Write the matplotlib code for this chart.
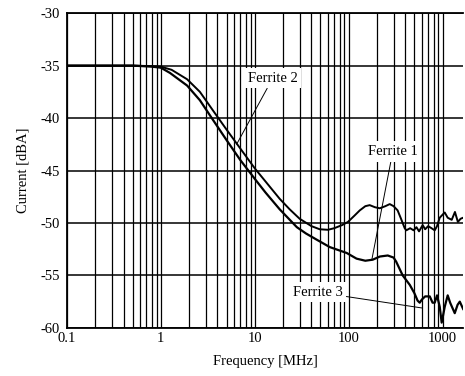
import matplotlib
matplotlib.use('Agg')
import matplotlib.pyplot as plt
import numpy as np
from matplotlib.ticker import FixedLocator, NullFormatter

plt.rcParams['font.family'] = ['Liberation Serif', 'DejaVu Serif']

# upper curve (Ferrite 2), frequency in MHz, current in dBA
freq_upper = [0.1, 0.5, 0.8, 1.0, 1.3, 1.9, 2.6, 3.6, 5.0, 7.0, 10, 14, 18.4, 23.5,
              30, 40, 49, 60, 70, 85, 98, 115, 131, 150, 167, 190, 214, 245, 273,
              300, 331, 360, 394, 410, 450, 490, 525, 560, 612, 650, 700, 760, 822,
              870, 929, 1000, 1050, 1130, 1247, 1350, 1450, 1550, 1650]
current_upper = [-35.0, -35.0, -35.05, -35.1, -35.4, -36.3, -37.5, -39.3, -41.1, -42.9,
                 -44.8, -46.4, -47.7, -48.7, -49.6, -50.3, -50.6, -50.65, -50.5, -50.2,
                 -49.9, -49.3, -48.8, -48.4, -48.3, -48.5, -48.6, -48.4, -48.2, -48.4,
                 -48.8, -49.6, -50.5, -50.7, -50.5, -50.7, -50.4, -50.8, -50.2, -50.6,
                 -50.3, -50.5, -50.7, -50.3, -49.5, -49.2, -49.0, -49.5, -49.7, -48.95,
                 -49.9, -49.6, -49.5]

# lower curve (Ferrite 1 / Ferrite 3)
freq_lower = [0.1, 0.5, 0.8, 1.0, 1.25, 1.9, 2.6, 3.6, 5.0, 7.0, 10, 13, 18.4, 28,
              35, 45.7, 62.8, 95, 121, 150, 180, 214, 260, 300, 320, 375, 446, 500,
              540, 569, 600, 650, 728, 780, 822, 870, 930, 975, 1010, 1050, 1130,
              1200, 1343, 1440, 1520, 1650]
current_lower = [-35.0, -35.0, -35.1, -35.2, -35.7, -36.9, -38.3, -40.2, -42.1, -44.0,
                 -45.8, -47.1, -48.7, -50.4, -51.0, -51.6, -52.3, -52.86, -53.4, -53.6,
                 -53.5, -53.2, -53.1, -53.3, -53.7, -55.0, -55.9, -56.7, -57.4, -57.6,
                 -57.3, -57.0, -57.0, -57.6, -57.6, -56.9, -58.0, -59.5, -58.8, -58.0,
                 -56.9, -57.6, -58.6, -57.8, -57.5, -58.2]

x_ticks = [0.1, 1, 10, 100, 1000]
x_tick_labels = ['0.1', '1', '10', '100', '1000']
y_ticks = [-60, -55, -50, -45, -40, -35, -30]

fig = plt.figure(figsize=(4.65, 3.76), dpi=100)
ax = fig.add_axes([0.144, 0.128, 0.852, 0.837])

ax.semilogx(freq_upper, current_upper, color='black', lw=1.4)
ax.semilogx(freq_lower, current_lower, color='black', lw=1.6)

ax.set_xlim(0.1, 1650)
ax.set_ylim(-60, -30)

minor = [m * 10.0 ** e for e in range(-1, 4) for m in range(2, 10)]
ax.xaxis.set_major_locator(FixedLocator(x_ticks))
ax.xaxis.set_minor_locator(FixedLocator(minor))
ax.xaxis.set_minor_formatter(NullFormatter())
ax.set_xticklabels(x_tick_labels)
ax.set_yticks(y_ticks)
ax.set_yticklabels([str(v) for v in y_ticks])

ax.grid(True, which='both', axis='x', color='black', lw=0.9)
ax.grid(True, which='major', axis='y', color='black', lw=1.1)
ax.tick_params(which='both', length=0, labelsize=10.5)
ax.tick_params(axis='y', pad=5)
ax.tick_params(axis='x', pad=3)

ax.spines['right'].set_visible(False)
for s in ['left', 'bottom', 'top']:
    ax.spines[s].set_linewidth(1.3)

ax.set_xlabel('Frequency [MHz]', fontsize=10.5, labelpad=7)
ax.set_ylabel('Current [dBA]', fontsize=10.5, labelpad=8)

box = dict(boxstyle='square,pad=0.25', fc='white', ec='none')
line = dict(arrowstyle='-', color='black', lw=0.7, shrinkA=0, shrinkB=0)
ax.annotate('Ferrite 2', xy=(6.4, -42.5), xytext=(15.5, -36.2), fontsize=10.5,
            ha='center', va='center', bbox=box, arrowprops=line)
ax.annotate('Ferrite 1', xy=(176, -53.5), xytext=(294, -43.2), fontsize=10.5,
            ha='center', va='center', bbox=box, arrowprops=line)
ax.annotate('Ferrite 3', xy=(598, -58.1), xytext=(46.8, -56.6), fontsize=10.5,
            ha='center', va='center', bbox=box, arrowprops=line)

fig.savefig('out.png', dpi=100)
